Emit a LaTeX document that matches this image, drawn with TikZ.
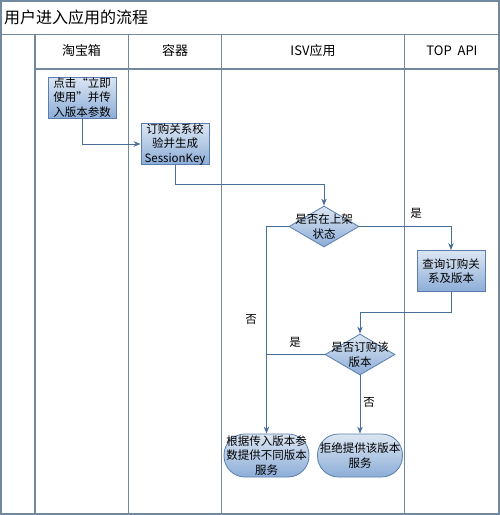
\documentclass[tikz,border=0pt]{standalone}
\usepackage{fontspec}
\setmainfont{Noto Sans CJK SC}
\usetikzlibrary{shapes.geometric,arrows.meta,calc}
\definecolor{framec}{HTML}{72889E}
\definecolor{connc}{HTML}{4A6E9A}
\definecolor{ftop}{HTML}{DCE6F2}
\definecolor{fbot}{HTML}{8CADD8}
\definecolor{bordc}{HTML}{5A7FAE}
\begin{document}
\begin{tikzpicture}[x=1pt,y=-1pt,
  lane/.style={draw=framec,line width=1.3pt},
  proc/.style={draw=bordc,line width=0.8pt,top color=ftop,bottom color=fbot,
    minimum width=68pt,minimum height=41pt,inner sep=0pt,align=center,
    font=\fontsize{11.5}{14.5}\selectfont},
  dia/.style={draw=bordc,line width=0.8pt,top color=ftop,bottom color=fbot,
    shape=diamond,minimum width=70pt,minimum height=41pt,inner sep=0pt},
  term/.style={draw=bordc,line width=0.8pt,top color=ftop,bottom color=fbot,
    rounded corners=21pt,minimum width=85pt,minimum height=43pt,inner sep=0pt},
  txt/.style={align=center,inner sep=0pt,font=\fontsize{11.5}{14.5}\selectfont},
  lbl/.style={inner sep=0pt,font=\fontsize{11.5}{13}\selectfont},
  hdr/.style={inner sep=0pt,font=\fontsize{13}{15}\selectfont},
  conn/.style={draw=connc,line width=0.9pt},
  arr/.style={conn,-{Stealth[length=7pt,width=5.5pt]}}
]
\useasboundingbox (0,0) rectangle (500,515);
% frame
\draw[lane] (1,1) rectangle (499,514);
\draw[lane] (1,34.5) -- (499,34.5);
\draw[lane] (35,69) -- (499,69);
\foreach \x in {35,128.5,221.5,404.5} \draw[lane] (\x,34.5) -- (\x,514);
% title and headers
\node[anchor=west,inner sep=0pt,font=\fontsize{16}{18}\selectfont] (title) at (4,17) {用户进入应用的流程};
\node[hdr] (h1) at (81.5,51) {淘宝箱};
\node[hdr] (h2) at (175,51) {容器};
\node[hdr] (h3) at (313,51) {ISV应用};
\node[hdr] (h4) at (452,51) {TOP\ \ API};
% nodes
\node[proc] (b1) at (82,97.5) {点击“立即\\使用”并传\\入版本参数};
\node[proc] (b2) at (175,144) {订购关系校\\验并生成\\SessionKey};
\node[dia] (d1) at (324,226.5) {};
\node[txt] (d1t) at (324,226.5) {是否在上架\\状态};
\node[proc] (b3) at (451,271) {查询订购关\\系及版本};
\node[dia] (d2) at (360,354.5) {};
\node[txt] (d2t) at (360,354.5) {是否订购该\\版本};
\node[term] (e1) at (266.5,455.5) {};
\node[txt] (e1t) at (266.5,455.5) {根据传入版本参\\数提供不同版本\\服务};
\node[term] (e2) at (360,455.5) {};
\node[txt] (e2t) at (360,455.5) {拒绝提供该版本\\服务};
% helper coordinates
\coordinate (c1) at (324,184);
\coordinate (c2) at (360,312);
\coordinate (c3) at (e1.north |- d2.west);
% connectors
\draw[arr] (b1.south) |- (b2.west);
\draw[arr] (b2.south) |- (c1) -- (d1.north);
\draw[arr] (d1.west) -| (e1.north);
\draw[arr] (d1.east) -| (b3.north);
\draw[arr] (b3.south) |- (c2) -- (d2.north);
\draw[conn] (d2.west) -- (c3);
\draw[arr] (d2.south) -- (e2.north);
% labels
\node[lbl] (l1) at (416,213) {是};
\node[lbl] (l2) at (251,319) {否};
\node[lbl] (l3) at (295,342) {是};
\node[lbl] (l4) at (369,402) {否};
\end{tikzpicture}
\end{document}
